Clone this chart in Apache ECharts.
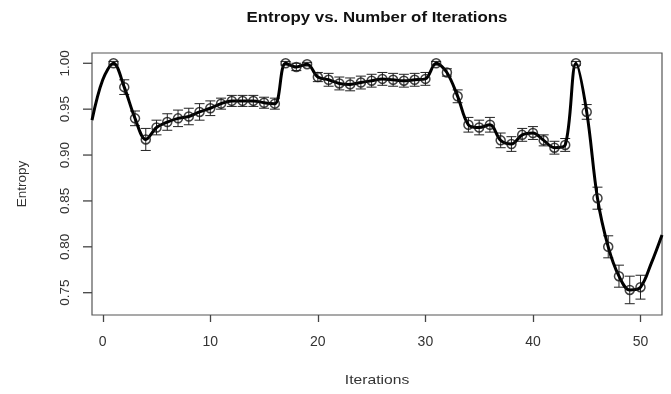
<!DOCTYPE html>
<html>
<head>
<meta charset="utf-8">
<title>Entropy vs. Number of Iterations</title>
<script src="https://cdn.jsdelivr.net/npm/echarts@6/dist/echarts.min.js"></script>
<style>
  html, body { margin: 0; padding: 0; background: #fff; }
  #chart { width: 671px; height: 394px; }
</style>
</head>
<body>
<div id="chart"></div>
<script>
// Iteration numbers of the measured points
const iterations = [1, 2, 3, 4, 5, 6, 7, 8, 9, 10,
  11, 12, 13, 14, 15, 16, 17, 18, 19, 20,
  21, 22, 23, 24, 25, 26, 27, 28, 29, 30,
  31, 32, 33, 34, 35, 36, 37, 38, 39, 40,
  41, 42, 43, 44, 45, 46, 47, 48, 49, 50];

// Mean entropy per iteration
const entropy = [1.000, 0.974, 0.940, 0.917, 0.930, 0.936, 0.940, 0.942, 0.947, 0.951,
  0.956, 0.959, 0.959, 0.959, 0.957, 0.956, 1.000, 0.996, 0.999, 0.985,
  0.982, 0.978, 0.977, 0.979, 0.981, 0.983, 0.982, 0.981, 0.982, 0.983,
  1.000, 0.990, 0.964, 0.933, 0.930, 0.933, 0.916, 0.912, 0.922, 0.924,
  0.916, 0.908, 0.911, 1.000, 0.947, 0.853, 0.800, 0.768, 0.753, 0.756];

// Half-width of the error bar at each iteration
const errors = [0.002, 0.008, 0.008, 0.012, 0.008, 0.009, 0.009, 0.009, 0.009, 0.008,
  0.006, 0.006, 0.006, 0.006, 0.006, 0.006, 0.002, 0.004, 0.002, 0.005,
  0.007, 0.007, 0.007, 0.007, 0.007, 0.007, 0.007, 0.007, 0.007, 0.007,
  0.002, 0.004, 0.007, 0.008, 0.008, 0.008, 0.008, 0.008, 0.007, 0.007,
  0.006, 0.007, 0.007, 0.002, 0.008, 0.012, 0.012, 0.012, 0.015, 0.013];

// Fitted curve: extends past the measured points to both plot edges
const curveX = [-1, 0].concat(iterations, [51, 52]);
const curveY = [0.938, 0.982].concat(entropy, [0.782, 0.813]);

// Axis tick positions
const xTicks = [0, 10, 20, 30, 40, 50];
const yTicks = [0.75, 0.80, 0.85, 0.90, 0.95, 1.00];

const X_MIN = -1, X_MAX = 52;
const FONT = 'Liberation Sans, Arial, Helvetica, sans-serif';

const chart = echarts.init(document.getElementById('chart'), null, { renderer: 'canvas' });

const pointData = iterations.map((x, i) => [x, entropy[i]]);
const errData = iterations.map((x, i) => [x, entropy[i], errors[i]]);
const curveData = curveX.map((x, i) => [x, curveY[i]]);
const yTickData = yTicks.map(v => [X_MIN, v]);

chart.setOption({
  animation: false,
  backgroundColor: '#fff',
  grid: {
    left: 92, right: 9, top: 53, bottom: 79,
    show: true, borderColor: '#555', borderWidth: 1.2, backgroundColor: 'transparent'
  },
  xAxis: {
    type: 'value', min: X_MIN, max: X_MAX,
    axisLine: { show: false, onZero: false },
    splitLine: { show: false },
    axisTick: { show: true, length: 7, customValues: xTicks, lineStyle: { color: '#444', width: 1.3 } },
    axisLabel: {
      customValues: xTicks, margin: 20, color: '#333',
      fontFamily: FONT, fontSize: 14
    }
  },
  yAxis: {
    type: 'value', min: 0.7257, max: 1.0112,
    axisLine: { show: false, onZero: false },
    splitLine: { show: false },
    axisTick: { show: false },
    axisLabel: {
      customValues: yTicks, rotate: 90, margin: 20, color: '#333',
      fontFamily: FONT, fontSize: 13.5,
      formatter: v => v.toFixed(2)
    }
  },
  graphic: [
    { type: 'text', x: 377, y: 18, scaleX: 1.16, style: {
        text: 'Entropy vs. Number of Iterations', fill: '#111',
        font: 'bold 14.5px ' + FONT, textAlign: 'center', textVerticalAlign: 'middle' } },
    { type: 'text', x: 377, y: 380, scaleX: 1.16, style: {
        text: 'Iterations', fill: '#333',
        font: '13.5px ' + FONT, textAlign: 'center', textVerticalAlign: 'middle' } },
    { type: 'text', x: 22, y: 184, rotation: Math.PI / 2, style: {
        text: 'Entropy', fill: '#333',
        font: '13.5px ' + FONT, textAlign: 'center', textVerticalAlign: 'middle' } }
  ],
  series: [
    {
      // Outward tick marks on the left edge of the plot box
      type: 'custom',
      name: 'yTicks',
      data: yTickData,
      clip: false,
      silent: true,
      renderItem: function (params, api) {
        const p = api.coord([api.value(0), api.value(1)]);
        return {
          type: 'line',
          shape: { x1: p[0] - 9, y1: p[1], x2: p[0], y2: p[1] },
          style: { stroke: '#444', lineWidth: 1.3 }
        };
      }
    },
    {
      type: 'custom',
      name: 'error',
      data: errData,
      z: 2,
      renderItem: function (params, api) {
        const x = api.value(0), y = api.value(1), e = api.value(2);
        const top = api.coord([x, y + e]);
        const bot = api.coord([x, y - e]);
        const w = 5;
        const style = { stroke: '#222', lineWidth: 1 };
        return {
          type: 'group',
          children: [
            { type: 'line', shape: { x1: top[0], y1: top[1], x2: bot[0], y2: bot[1] }, style },
            { type: 'line', shape: { x1: top[0] - w, y1: top[1], x2: top[0] + w, y2: top[1] }, style },
            { type: 'line', shape: { x1: bot[0] - w, y1: bot[1], x2: bot[0] + w, y2: bot[1] }, style }
          ]
        };
      }
    },
    {
      type: 'line',
      name: 'curve',
      data: curveData,
      smooth: 0.35,
      symbol: 'none',
      z: 3,
      lineStyle: { color: '#000', width: 3 }
    },
    {
      type: 'scatter',
      name: 'entropy',
      data: pointData,
      symbol: 'circle',
      symbolSize: 9,
      z: 4,
      itemStyle: { color: 'rgba(0,0,0,0)', borderColor: '#111', borderWidth: 1.5 }
    }
  ]
});
</script>
</body>
</html>
